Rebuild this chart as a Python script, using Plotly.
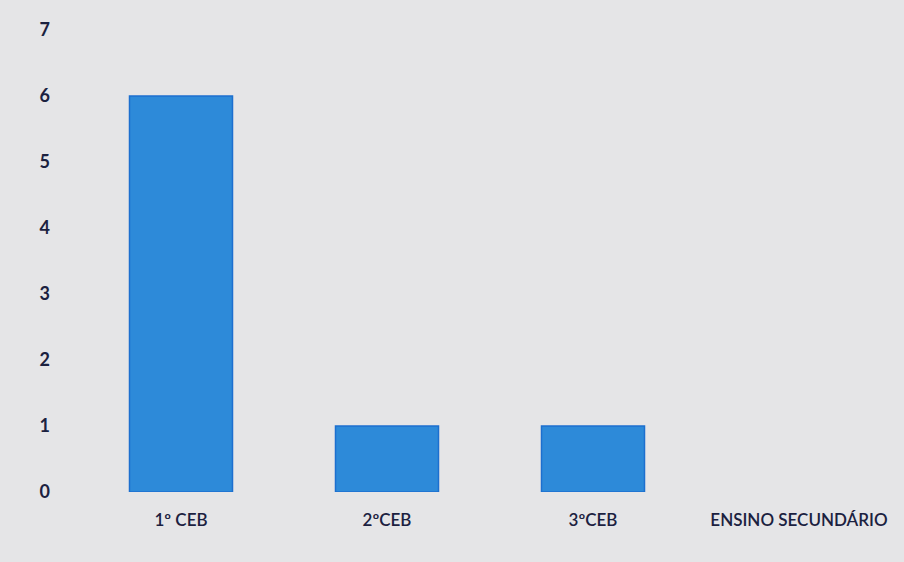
import plotly.graph_objects as go

# Número de casos por nível de ensino
categorias = ["1º CEB", "2ºCEB", "3ºCEB", "ENSINO SECUNDÁRIO"]
valores = [6, 1, 1, 0]
marcas_y = [0, 1, 2, 3, 4, 5, 6, 7]

fundo = "#e5e5e7"
cor_barra = "#2d8ad9"
cor_texto = "#1b2140"

# contorno apenas nas barras com valor
contorno = [1.5 if v > 0 else 0 for v in valores]

fig = go.Figure(
    go.Bar(
        x=categorias,
        y=valores,
        marker=dict(color=cor_barra, line=dict(color="#1c6fcf", width=contorno)),
        width=0.5,
    )
)

fig.update_layout(
    width=904,
    height=562,
    margin=dict(l=78, r=2, t=30, b=70),
    paper_bgcolor=fundo,
    plot_bgcolor=fundo,
    showlegend=False,
    font=dict(family="Lato, Open Sans, sans-serif", color=cor_texto),
)

fig.update_xaxes(
    showgrid=False,
    showline=False,
    zeroline=False,
    ticks="",
    tickfont=dict(size=17, color=cor_texto, weight=600),
    ticklabelstandoff=16,
)

fig.update_yaxes(
    range=[0, 7],
    tickvals=marcas_y,
    showgrid=False,
    showline=False,
    zeroline=False,
    ticks="",
    tickfont=dict(size=18, color=cor_texto, weight="bold"),
    ticklabelstandoff=27,
)

fig.write_html("out.html")
